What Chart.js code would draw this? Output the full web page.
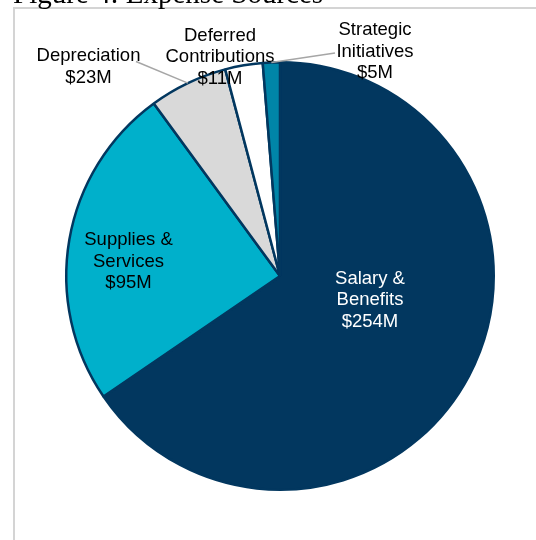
<!DOCTYPE html>
<html>
<head>
<meta charset="utf-8">
<title>Figure 4: Expense Sources</title>
<script src="https://cdn.jsdelivr.net/npm/chart.js@4.4.1/dist/chart.umd.min.js"></script>
<style>
  html, body { margin: 0; padding: 0; background: #fff; overflow: hidden; }
  canvas { display: block; }
</style>
</head>
<body>
<canvas id="expense-pie" width="536" height="540"></canvas>
<script>
// Expense sources ($ millions)
const categories = [
  ['Salary &', 'Benefits'],
  ['Supplies &', 'Services'],
  ['Depreciation'],
  ['Deferred', 'Contributions'],
  ['Strategic', 'Initiatives'],
];
const expenses = [254, 95, 23, 11, 5];
const sliceColors = ['#02375f', '#00b0cb', '#d9d9d9', '#ffffff', '#0085a8'];

// Label block centre relative to the pie centre; leader = where the line meets the text
const labelLayout = [
  { dx: 90, dy: 22.5, color: '#ffffff' },
  { dx: -151.5, dy: -16, color: '#000000' },
  { dx: -191.5, dy: -210.5, color: '#000000', leader: { dx: 47.5, dy: -4 } },
  { dx: -60, dy: -220.5, color: '#000000' },
  { dx: 95, dy: -226, color: '#000000', leader: { dx: -40, dy: 3 } },
];

const LABEL_FONT = '18.5px "Liberation Sans", Arial, sans-serif';
const LINE_HEIGHT = 21.5;

// Title and frame
const framePlugin = {
  id: 'frame',
  beforeDraw(chart) {
    const ctx = chart.ctx;
    ctx.save();
    ctx.fillStyle = '#fff';
    ctx.fillRect(0, 0, chart.width, chart.height);
    ctx.strokeStyle = '#d4d4d4';
    ctx.lineWidth = 2;
    ctx.strokeRect(14, 8, chart.width + 20, chart.height + 20);
    ctx.fillStyle = '#000';
    ctx.font = '29px "Liberation Serif", "Times New Roman", serif';
    ctx.textBaseline = 'alphabetic';
    ctx.textAlign = 'left';
    ctx.fillText('Figure 4: Expense Sources', 13, 3);
    ctx.restore();
  },
};

// Slice labels with category, value and optional leader line
const sliceLabels = {
  id: 'sliceLabels',
  afterDatasetsDraw(chart) {
    const ctx = chart.ctx;
    const meta = chart.getDatasetMeta(0);
    const values = chart.data.datasets[0].data;
    ctx.save();
    meta.data.forEach((arc, i) => {
      const { x, y, startAngle, endAngle, outerRadius } = arc.getProps(
        ['x', 'y', 'startAngle', 'endAngle', 'outerRadius'], true);
      const layout = labelLayout[i];
      const cx = x + layout.dx;
      const cy = y + layout.dy;
      const lines = [...chart.data.labels[i], '$' + values[i] + 'M'];

      if (layout.leader) {
        const mid = (startAngle + endAngle) / 2;
        ctx.strokeStyle = '#a6a6a6';
        ctx.lineWidth = 1.5;
        ctx.beginPath();
        ctx.moveTo(x + Math.cos(mid) * outerRadius, y + Math.sin(mid) * outerRadius);
        ctx.lineTo(cx + layout.leader.dx, cy + layout.leader.dy);
        ctx.stroke();
      }

      ctx.font = LABEL_FONT;
      ctx.fillStyle = layout.color;
      ctx.textAlign = 'center';
      ctx.textBaseline = 'alphabetic';
      const top = cy - (lines.length - 1) * LINE_HEIGHT / 2;
      lines.forEach((line, j) => {
        // cap-height centre sits ~6.5px above the baseline
        ctx.fillText(line, cx, top + j * LINE_HEIGHT + 6.5);
      });
    });
    ctx.restore();
  },
};

new Chart(document.getElementById('expense-pie').getContext('2d'), {
  type: 'pie',
  data: {
    labels: categories,
    datasets: [
      {
        data: expenses,
        backgroundColor: sliceColors,
        borderColor: '#02375f',
        borderWidth: 2.5,
      },
    ],
  },
  options: {
    responsive: false,
    animation: false,
    layout: { padding: { left: 65, top: 61, right: 41, bottom: 49 } },
    plugins: {
      legend: { display: false },
      tooltip: { enabled: false },
    },
  },
  plugins: [framePlugin, sliceLabels],
});
</script>
</body>
</html>
